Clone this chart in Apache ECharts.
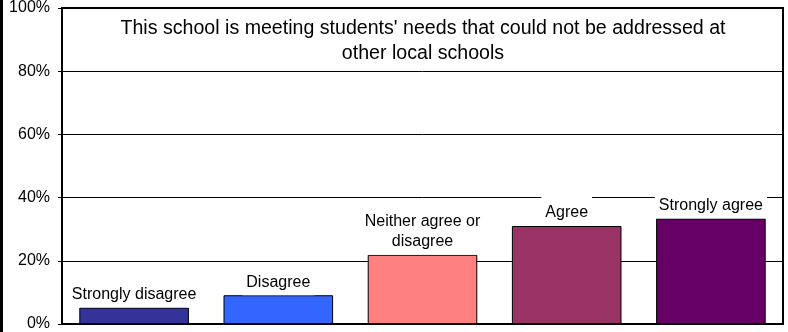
<!DOCTYPE html>
<html>
<head>
<meta charset="utf-8">
<script src="https://cdn.jsdelivr.net/npm/echarts@6/dist/echarts.min.js"></script>
<style>
html,body{margin:0;padding:0;background:#fff;}
#chart{width:788px;height:332px;}
</style>
</head>
<body>
<div id="chart"></div>
<script>
const categories = ['Strongly disagree', 'Disagree', 'Neither agree or\ndisagree', 'Agree', 'Strongly agree'];
const values = [5.2, 9.1, 21.9, 31.0, 33.4];
const yTicks = [0, 20, 40, 60, 80, 100];
const titleText = "This school is meeting students' needs that could not be addressed at\nother local schools";
const barColors = ['#333399', '#3366FF', '#FF8080', '#993366', '#660066'];

const FONT = 'Arial, "Liberation Sans", sans-serif';
const chart = echarts.init(document.getElementById('chart'), null, {renderer: 'canvas'});
chart.setOption({
  animation: false,
  backgroundColor: '#fff',
  grid: {left: 62, right: 5, top: 7, bottom: 8, show: true, borderColor: '#000', borderWidth: 2, backgroundColor: 'transparent'},
  xAxis: {
    type: 'category',
    data: categories,
    axisLine: {show: true, lineStyle: {color: '#000', width: 2}},
    axisTick: {show: false},
    axisLabel: {show: false},
    splitLine: {show: false}
  },
  yAxis: {
    type: 'value',
    min: yTicks[0],
    max: yTicks[yTicks.length - 1],
    interval: yTicks[1] - yTicks[0],
    axisLine: {show: true, lineStyle: {color: '#000', width: 2}},
    axisTick: {show: true, length: 4, lineStyle: {color: '#000', width: 1}},
    axisLabel: {formatter: '{value}%', color: '#000', fontSize: 16, fontFamily: FONT, margin: 12},
    splitLine: {show: true, lineStyle: {color: '#000', width: 1}}
  },
  series: [{
    type: 'bar',
    barWidth: '76%',
    data: values.map((v, i) => ({value: v, itemStyle: {color: barColors[i]}})),
    itemStyle: {borderColor: '#000', borderWidth: 1},
    label: {
      show: true,
      position: 'top',
      distance: 0,
      formatter: (p) => p.name,
      color: '#000',
      fontSize: 16,
      lineHeight: 20,
      fontFamily: FONT,
      backgroundColor: '#fff',
      padding: [7, 4, 3, 4]
    }
  }],
  graphic: [
    {type: 'rect', left: 0, top: 0, shape: {width: 3, height: 332}, style: {fill: '#000'}, z: 100},
    {type: 'text', x: 423, y: 16, z: 100, style: {text: titleText, font: '19.6px ' + FONT, fill: '#000', textAlign: 'center', lineHeight: 25}}
  ]
});
</script>
</body>
</html>
